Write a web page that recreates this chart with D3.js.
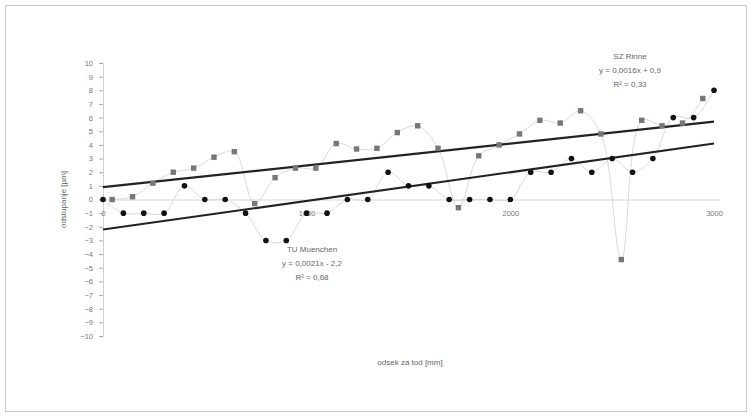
<!DOCTYPE html>
<html>
<head>
<meta charset="utf-8">
<script src="https://cdn.jsdelivr.net/npm/d3@7"></script>
<style>
  body { margin: 0; background: #fff; }
  text { font-family: Arial, "Liberation Sans", sans-serif; }
</style>
</head>
<body>
<svg id="chart" width="752" height="418"></svg>
<script>
  // TU series (black circles)
  const tuX = [0, 100, 200, 300, 400, 500, 600, 700, 800, 900, 1000, 1100, 1200, 1300, 1400, 1500,
    1600, 1700, 1800, 1900, 2000, 2100, 2200, 2300, 2400, 2500, 2600, 2700, 2800, 2900, 3000];
  const tuY = [0, -1, -1, -1, 1, 0, 0, -1, -3, -3, -1, -1, 0, 0, 2, 1,
    1, 0, 0, 0, 0, 2, 2, 3, 2, 3, 2, 3, 6, 6, 8];

  // SZ series (gray squares)
  const szX = [45, 145, 245, 345, 445, 545, 645, 745, 845, 945, 1045, 1145, 1245, 1345, 1445,
    1545, 1645, 1745, 1845, 1945, 2045, 2145, 2245, 2345, 2445, 2545, 2645, 2745, 2845, 2945];
  const szY = [0, 0.2, 1.2, 2.0, 2.3, 3.1, 3.5, -0.3, 1.6, 2.3, 2.3, 4.1, 3.7, 3.75, 4.9,
    5.4, 3.75, -0.6, 3.2, 4.0, 4.8, 5.8, 5.6, 6.5, 4.8, -4.4, 5.8, 5.4, 5.6, 7.4];

  // linear trends, as printed on the chart
  const trendSlope = [0.0016, 0.0021];
  const trendIntercept = [0.9, -2.2];
  const trendLabels = [
    ["SZ Rinne", "y = 0,0016x + 0,9", "R² = 0,33"],
    ["TU Muenchen", "y = 0,0021x - 2,2", "R² = 0,68"]
  ];

  const xTicks = [0, 1000, 2000, 3000];
  const yTicks = [10, 9, 8, 7, 6, 5, 4, 3, 2, 1, 0, -1, -2, -3, -4, -5, -6, -7, -8, -9, -10];

  const svg = d3.select("#chart");

  // outer frame
  svg.append("rect")
    .attr("x", 5.5).attr("y", 5.5)
    .attr("width", 741).attr("height", 406)
    .attr("fill", "none").attr("stroke", "#c8c8c8");

  const x = d3.scaleLinear().domain([0, 3000]).range([103, 714]);
  const y = d3.scaleLinear().domain([-10, 10]).range([336, 63]);

  // y axis
  const yAxis = svg.append("g")
    .attr("transform", "translate(" + x(0) + ",0)")
    .call(d3.axisLeft(y).tickValues(yTicks).tickFormat(d3.format("d"))
      .tickSize(4).tickPadding(6).tickSizeOuter(0));
  yAxis.select(".domain").attr("stroke", "#d0d0d0");
  yAxis.selectAll(".tick line").attr("stroke", "#aaa");
  yAxis.selectAll(".tick text").attr("fill", "#777").style("font-size", "7.5px");

  // x axis along zero
  const xAxis = svg.append("g")
    .attr("transform", "translate(0," + y(0) + ")")
    .call(d3.axisBottom(x).tickValues(xTicks).tickFormat(d3.format("d"))
      .tickSize(0).tickPadding(11).tickSizeOuter(0));
  xAxis.select(".domain").attr("stroke", "#d8d8d8").attr("d", "M" + x(0) + ",0.5H" + (x(3000) + 6));
  xAxis.selectAll(".tick text").attr("fill", "#777").style("font-size", "7.5px");

  // axis titles
  svg.append("text")
    .attr("transform", "translate(66," + y(0) + ") rotate(-90)")
    .attr("text-anchor", "middle")
    .attr("fill", "#666")
    .style("font-size", "8px")
    .text("odstupanje [µm]");

  svg.append("text")
    .attr("x", 410).attr("y", 365)
    .attr("text-anchor", "middle")
    .attr("fill", "#666")
    .style("font-size", "8px")
    .text("odsek za tod [mm]");

  // smoothed connecting lines
  const line = d3.line()
    .x(d => x(d[0]))
    .y(d => y(d[1]))
    .curve(d3.curveCatmullRom.alpha(0.5));

  svg.append("path")
    .datum(szX.map((v, i) => [v, szY[i]]))
    .attr("d", line)
    .attr("fill", "none").attr("stroke", "#cfcfcf").attr("stroke-width", 0.8);

  svg.append("path")
    .datum(tuX.map((v, i) => [v, tuY[i]]))
    .attr("d", line)
    .attr("fill", "none").attr("stroke", "#cfcfcf").attr("stroke-width", 0.8);

  // trendlines
  trendSlope.forEach((s, i) => {
    svg.append("line")
      .attr("x1", x(0)).attr("y1", y(trendIntercept[i]))
      .attr("x2", x(3000)).attr("y2", y(trendIntercept[i] + s * 3000))
      .attr("stroke", "#222").attr("stroke-width", 2.2);
  });

  // markers
  svg.append("g").selectAll("rect")
    .data(szX.map((v, i) => [v, szY[i]]))
    .join("rect")
    .attr("x", d => x(d[0]) - 2.7).attr("y", d => y(d[1]) - 2.7)
    .attr("width", 5.4).attr("height", 5.4)
    .attr("fill", "#777");

  svg.append("g").selectAll("circle")
    .data(tuX.map((v, i) => [v, tuY[i]]))
    .join("circle")
    .attr("cx", d => x(d[0])).attr("cy", d => y(d[1]))
    .attr("r", 2.8)
    .attr("fill", "#111");

  // trend labels
  const labelPos = [[630, 59], [312, 252]];
  trendLabels.forEach((lines, i) => {
    svg.append("g").selectAll("text")
      .data(lines)
      .join("text")
      .attr("x", labelPos[i][0])
      .attr("y", (d, j) => labelPos[i][1] + j * 14)
      .attr("text-anchor", "middle")
      .attr("fill", "#666")
      .style("font-size", "8px")
      .text(d => d);
  });
</script>
</body>
</html>
